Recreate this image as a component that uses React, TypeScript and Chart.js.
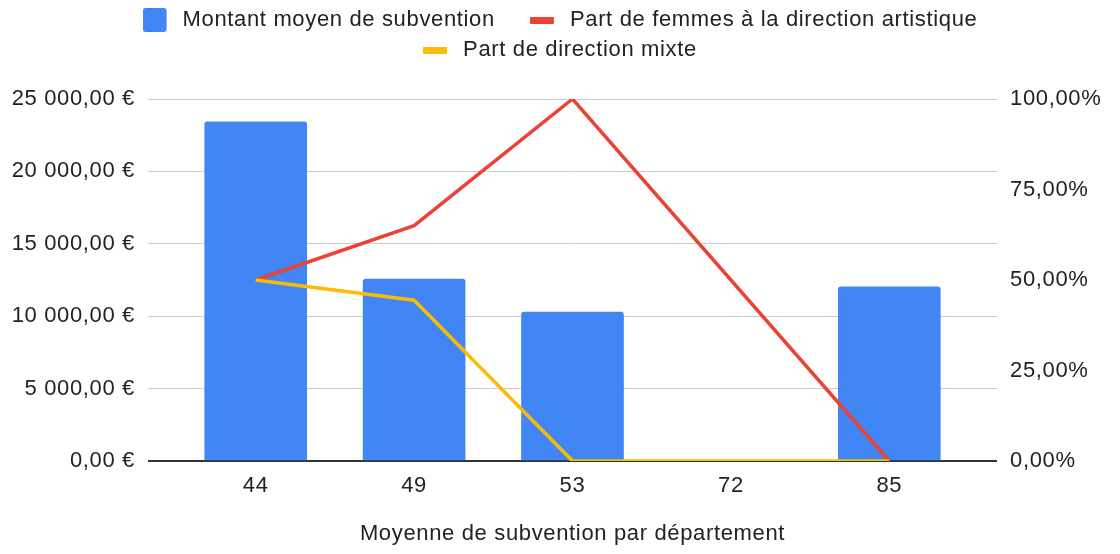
import React, { useEffect, useRef } from 'react';
import { Chart, registerables } from 'chart.js';

Chart.register(...registerables);

// ---- Data ----
const categories = ['44', '49', '53', '72', '85'];
const montantMoyen: (number | null)[] = [23430, 12570, 10290, null, 12020];
const partFemmes: (number | null)[] = [0.5, 0.65, 1, null, 0];
const partMixte: (number | null)[] = [0.5, 0.444, 0, null, 0];
const leftTicks = [0, 5000, 10000, 15000, 20000, 25000];
const rightTicks = [0, 0.25, 0.5, 0.75, 1];
const seriesLabels = [
  'Montant moyen de subvention',
  'Part de femmes à la direction artistique',
  'Part de direction mixte',
];
const xTitle = 'Moyenne de subvention par département';

const BLUE = '#4285F4';
const RED = '#EA4335';
const YELLOW = '#FBBC04';
const TEXT = '#222222';
const FONT_FAMILY = "'Liberation Sans', Arial, sans-serif";
const FONT = { family: FONT_FAMILY, size: 22 };
const LETTER_SPACING = '0.65px';

function fmtEuro(v: number): string {
  const s = Number(v).toFixed(2);
  const [int, dec] = s.split('.');
  return int.replace(/\B(?=(\d{3})+(?!\d))/g, ' ') + ',' + dec + ' €';
}
function fmtPct(v: number): string {
  return (Number(v) * 100).toFixed(2).replace('.', ',') + '%';
}

function makeMarker(color: string, w: number, h: number, cw: number, ch: number, r: number) {
  const c = document.createElement('canvas');
  c.width = w;
  c.height = h;
  const ctx = c.getContext('2d')!;
  ctx.fillStyle = color;
  ctx.beginPath();
  if ((ctx as any).roundRect) (ctx as any).roundRect(0, (h - ch) / 2, cw, ch, r);
  else ctx.rect(0, (h - ch) / 2, cw, ch);
  ctx.fill();
  return c;
}

export default function App() {
  const canvasRef = useRef<HTMLCanvasElement | null>(null);

  useEffect(() => {
    document.body.style.margin = '0';
    const canvas = canvasRef.current;
    if (!canvas) return;

    const markers = [
      makeMarker(BLUE, 29, 24, 24, 24, 3),
      makeMarker(RED, 29, 7, 24, 7, 1),
      makeMarker(YELLOW, 29, 7, 24, 7, 1),
    ];
    const colors = [BLUE, RED, YELLOW];

    const setSpacing = (chart: any) => {
      if (chart.ctx) (chart.ctx as any).letterSpacing = LETTER_SPACING;
    };

    const legendSpacer = {
      id: 'legendSpacer',
      beforeLayout(chart: any) {
        setSpacing(chart);
        const legend = chart.legend;
        if (legend && !legend.__patched) {
          const orig = legend.fit;
          legend.fit = function () {
            const mw = this.maxWidth;
            // wrap rows like the reference (narrower wrapping width)
            this.maxWidth = mw - 100;
            orig.call(this);
            this.maxWidth = mw;
            this.width = mw;
            this.height += 28;
          };
          legend.__patched = true;
        }
      },
      beforeDraw(chart: any) {
        setSpacing(chart);
      },
    };

    const chart = new Chart(canvas, {
      type: 'bar',
      data: {
        datasets: [
          {
            type: 'bar',
            label: seriesLabels[0],
            data: montantMoyen.map((v, i) => ({ x: i, y: v })) as any,
            backgroundColor: BLUE,
            barThickness: 102,
            borderRadius: 3,
            yAxisID: 'y',
            order: 2,
          },
          {
            type: 'line',
            label: seriesLabels[1],
            data: partFemmes.map((v, i) => ({ x: i, y: v })) as any,
            borderColor: RED,
            backgroundColor: RED,
            borderWidth: 3.5,
            pointRadius: 0,
            spanGaps: true,
            tension: 0,
            yAxisID: 'y1',
            order: 1,
          },
          {
            type: 'line',
            label: seriesLabels[2],
            data: partMixte.map((v, i) => ({ x: i, y: v })) as any,
            borderColor: YELLOW,
            backgroundColor: YELLOW,
            borderWidth: 3.5,
            pointRadius: 0,
            spanGaps: true,
            tension: 0,
            yAxisID: 'y1',
            order: 0,
          },
        ] as any,
      },
      options: {
        animation: false,
        responsive: true,
        maintainAspectRatio: false,
        layout: { padding: { top: 1, left: 0, right: 0, bottom: 0 } },
        plugins: {
          tooltip: { enabled: false },
          legend: {
            position: 'top',
            labels: {
              usePointStyle: true,
              pointStyleWidth: 29,
              boxHeight: 22,
              padding: 8,
              color: TEXT,
              font: FONT,
              generateLabels: () =>
                seriesLabels.map((t, i) => ({
                  text: i === 0 ? t + '    ' : t,
                  pointStyle: markers[i] as any,
                  fillStyle: colors[i],
                  strokeStyle: colors[i],
                  lineWidth: 0,
                  hidden: false,
                  datasetIndex: i,
                  fontColor: TEXT,
                })),
            },
          },
        },
        scales: {
          x: {
            type: 'linear',
            offset: false,
            min: -0.68,
            max: 4.68,
            afterBuildTicks: (s: any) => {
              s.ticks = categories.map((_, i) => ({ value: i }));
            },
            ticks: {
              callback: (v: any) => categories[v] ?? '',
              padding: 12,
              color: TEXT,
              font: FONT,
              autoSkip: false,
              maxRotation: 0,
            },
            grid: { display: false, drawTicks: false, offset: false },
            border: { display: false },
            title: {
              display: true,
              text: xTitle,
              color: TEXT,
              font: FONT,
              padding: { top: 0, bottom: 7 },
            },
            afterFit: (s: any) => {
              s.height = 93;
            },
          },
          y: {
            type: 'linear',
            position: 'left',
            min: 0,
            max: 25000,
            afterBuildTicks: (s: any) => {
              s.ticks = leftTicks.map((v) => ({ value: v }));
            },
            ticks: {
              callback: (v: any) => fmtEuro(v),
              padding: 13,
              color: TEXT,
              font: FONT,
            },
            grid: {
              drawTicks: false,
              color: (ctx: any) => (ctx.tick && ctx.tick.value === 0 ? '#333333' : '#cccccc'),
              lineWidth: (ctx: any) => (ctx.tick && ctx.tick.value === 0 ? 2 : 1),
            },
            border: { display: false },
            afterFit: (s: any) => {
              s.width = 148;
            },
          },
          y1: {
            type: 'linear',
            position: 'right',
            min: 0,
            max: 1,
            afterBuildTicks: (s: any) => {
              s.ticks = rightTicks.map((v) => ({ value: v }));
            },
            ticks: {
              callback: (v: any) => fmtPct(v),
              padding: 13,
              color: TEXT,
              font: FONT,
            },
            grid: { display: false, drawTicks: false },
            border: { display: false },
            afterFit: (s: any) => {
              s.width = 123;
            },
          },
        },
      } as any,
      plugins: [legendSpacer],
    });

    return () => {
      chart.destroy();
    };
  }, []);

  return (
    <div style={{ position: 'relative', width: 1120, height: 554 }}>
      <canvas ref={canvasRef} />
    </div>
  );
}
